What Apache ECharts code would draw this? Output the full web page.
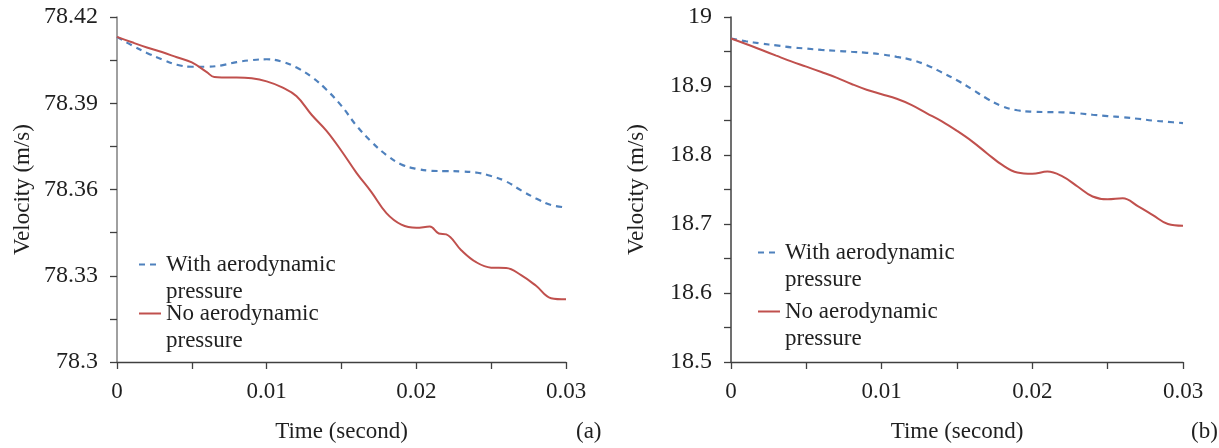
<!DOCTYPE html>
<html>
<head>
<meta charset="utf-8">
<script src="https://cdn.jsdelivr.net/npm/echarts@6/dist/echarts.min.js"></script>
<style>
  html, body { margin: 0; padding: 0; background: #fff; }
  #chart { width: 1219px; height: 448px; }
</style>
</head>
<body>
<div id="chart"></div>
<script>
// Panel (a): high-speed case
const timeWithA = [0, 0.001, 0.002, 0.003, 0.004, 0.005, 0.006, 0.007, 0.008, 0.009, 0.010,
  0.011, 0.012, 0.013, 0.014, 0.015, 0.016, 0.017, 0.018, 0.019, 0.020,
  0.021, 0.022, 0.023, 0.024, 0.025, 0.026, 0.027, 0.028, 0.029, 0.030];
const velWithA = [78.4131, 78.4101, 78.4075, 78.4053, 78.4034, 78.4027, 78.4027, 78.4032, 78.4043, 78.4050, 78.4053,
  78.4045, 78.4024, 78.3992, 78.3947, 78.3891, 78.3822, 78.3766, 78.3720, 78.3687, 78.3672,
  78.3665, 78.3664, 78.3663, 78.3659, 78.3647, 78.3628, 78.3597, 78.3569, 78.3546, 78.3538];

const timeNoA = [0, 0.001, 0.002, 0.003, 0.004, 0.005, 0.006, 0.0065, 0.007, 0.008, 0.009, 0.010,
  0.011, 0.012, 0.013, 0.014, 0.015, 0.016, 0.017, 0.018, 0.019, 0.020,
  0.0209, 0.0215, 0.022, 0.023, 0.024, 0.025, 0.026, 0.027, 0.028, 0.029, 0.030];
const velNoA = [78.4131, 78.4112, 78.4094, 78.4078, 78.4060, 78.4042, 78.4008, 78.3991, 78.3990, 78.3990, 78.3987, 78.3976,
  78.3956, 78.3924, 78.3860, 78.3804, 78.3734, 78.3658, 78.3591, 78.3518, 78.3478, 78.3467,
  78.3471, 78.3447, 78.3444, 78.3389, 78.3347, 78.3328, 78.3327, 78.3302, 78.3265, 78.3222, 78.3218];

// Panel (b): low-speed case
const timeB = [0, 0.001, 0.002, 0.003, 0.004, 0.005, 0.006, 0.007, 0.008, 0.009, 0.010,
  0.011, 0.012, 0.013, 0.014, 0.015, 0.016, 0.017, 0.018, 0.019, 0.020,
  0.021, 0.022, 0.023, 0.024, 0.025, 0.026, 0.027, 0.028, 0.029, 0.030];
const velWithB = [18.9688, 18.9648, 18.9615, 18.9589, 18.9561, 18.9542, 18.9523, 18.9510, 18.9496, 18.9481, 18.9458,
  18.9423, 18.9378, 18.9302, 18.9196, 18.9084, 18.8953, 18.8815, 18.8706, 18.8648, 18.8627,
  18.8622, 18.8618, 18.8605, 18.8583, 18.8564, 18.8547, 18.8525, 18.8499, 18.8481, 18.8462];
const velNoB = [18.9688, 18.9609, 18.9525, 18.9440, 18.9356, 18.9280, 18.9202, 18.9121, 18.9029, 18.8946, 18.8881,
  18.8815, 18.8724, 18.8605, 18.8488, 18.8350, 18.8198, 18.8023, 18.7856, 18.7747, 18.7728,
  18.7760, 18.7689, 18.7544, 18.7398, 18.7358, 18.7372, 18.7260, 18.7129, 18.6999, 18.6974];

// Axis ticks
const timeTicks = [0, 0.01, 0.02, 0.03];
const velTicksA = [78.3, 78.33, 78.36, 78.39, 78.42];
const velTicksB = [18.5, 18.6, 18.7, 18.8, 18.9, 19];

const seriesNames = ['With aerodynamic pressure', 'No aerodynamic pressure'];
const panelTags = ['(a)', '(b)'];

const FONT = "'Liberation Serif', 'Times New Roman', serif";
const TEXT = '#1f1f1f';
const BLUE = '#4F81BD';
const RED = '#C0504D';

const zip = (xs, ys) => xs.map((x, i) => [x, ys[i]]);

function xAxisFor(gridIndex) {
  return {
    type: 'value', gridIndex,
    min: timeTicks[0], max: timeTicks[timeTicks.length - 1],
    interval: timeTicks[1] - timeTicks[0],
    name: 'Time (second)', nameLocation: 'middle', nameGap: 58,
    nameTextStyle: { fontFamily: FONT, fontSize: 23, color: TEXT },
    axisLine: { show: true, lineStyle: { color: '#404040', width: 1.3 } },
    axisTick: { show: true, length: 7, lineStyle: { color: '#404040', width: 1.3 } },
    minorTick: { show: true, splitNumber: 2, length: 7, lineStyle: { color: '#404040', width: 1.3 } },
    axisLabel: { fontFamily: FONT, fontSize: 23, color: TEXT, margin: 18 },
    splitLine: { show: false }
  };
}

function yAxisFor(gridIndex, ticks, lineColor) {
  return {
    type: 'value', gridIndex,
    min: ticks[0], max: ticks[ticks.length - 1],
    interval: +(ticks[1] - ticks[0]).toFixed(4),
    name: 'Velocity (m/s)', nameLocation: 'middle', nameGap: 83, nameRotate: 90,
    nameTextStyle: { fontFamily: FONT, fontSize: 23, color: TEXT },
    axisLine: { show: true, lineStyle: { color: lineColor, width: 1.5 } },
    axisTick: { show: true, length: 7, lineStyle: { color: '#404040', width: 1.3 } },
    minorTick: { show: true, splitNumber: 2, length: 7, lineStyle: { color: '#404040', width: 1.3 } },
    axisLabel: { fontFamily: FONT, fontSize: 24, color: TEXT, margin: 19 },
    splitLine: { show: false }
  };
}

function lineSeries(name, idx, data, color, dashed) {
  return {
    name, type: 'line', xAxisIndex: idx, yAxisIndex: idx,
    data, smooth: 0.4, symbol: 'none', animation: false,
    lineStyle: { color, width: dashed ? 2.2 : 2, type: dashed ? [6, 5] : 'solid' },
    itemStyle: { color }
  };
}

// Each legend entry wraps onto two lines; a leading empty line keeps the
// marker level with the first line of text.
function legendFor(left, top, gap) {
  return {
    orient: 'vertical', left, top, padding: 0,
    itemWidth: 22, itemHeight: 14, itemGap: gap,
    data: seriesNames,
    formatter: n => '\n' + n.replace(' pressure', '\npressure'),
    itemStyle: { opacity: 0 },
    textStyle: { fontFamily: FONT, fontSize: 23, color: TEXT, lineHeight: 27 },
    selectedMode: false
  };
}

const chart = echarts.init(document.getElementById('chart'), null, { renderer: 'canvas' });
chart.setOption({
  backgroundColor: '#fff',
  animation: false,
  grid: [
    { left: 117, top: 17, width: 449, height: 345 },
    { left: 731, top: 17, width: 452, height: 345 }
  ],
  xAxis: [xAxisFor(0), xAxisFor(1)],
  yAxis: [yAxisFor(0, velTicksA, '#808080'), yAxisFor(1, velTicksB, '#404040')],
  legend: [legendFor(138, 224, -32), legendFor(757, 212, -22)],
  series: [
    lineSeries(seriesNames[0], 0, zip(timeWithA, velWithA), BLUE, true),
    lineSeries(seriesNames[1], 0, zip(timeNoA, velNoA), RED, false),
    lineSeries(seriesNames[0], 1, zip(timeB, velWithB), BLUE, true),
    lineSeries(seriesNames[1], 1, zip(timeB, velNoB), RED, false)
  ],
  graphic: [
    { type: 'text', left: 576, top: 420, style: { text: panelTags[0], font: '23px ' + FONT, fill: TEXT } },
    { type: 'text', left: 1191, top: 420, style: { text: panelTags[1], font: '23px ' + FONT, fill: TEXT } }
  ]
});
</script>
</body>
</html>
